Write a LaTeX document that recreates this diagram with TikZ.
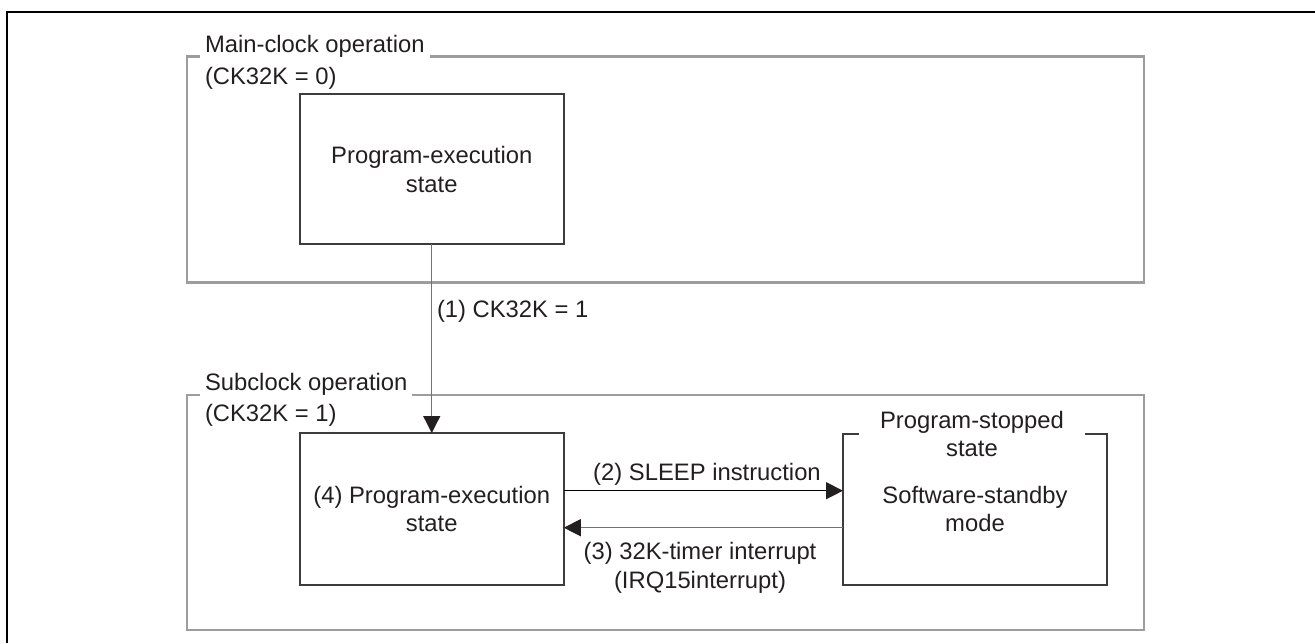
\documentclass[tikz,border=0pt]{standalone}
\usepackage{fontspec}
\setmainfont{Liberation Sans}
\usetikzlibrary{arrows.meta}
\definecolor{framegray}{RGB}{157,157,160}
\definecolor{ink}{RGB}{35,31,32}
\definecolor{boxink}{RGB}{60,60,60}
\definecolor{linegray}{RGB}{115,115,115}
\begin{document}
\begin{tikzpicture}[x=1pt,y=-1pt,
  font=\fontsize{23.8}{28.5}\selectfont,
  every node/.style={text=ink, inner sep=0pt, outer sep=0pt},
  regionbox/.style={draw=framegray, line width=2.5pt, anchor=north west},
  statebox/.style={draw=boxink, line width=2pt, minimum width=264pt, align=center},
  regiontitle/.style={fill=white, inner xsep=5pt, inner ysep=3pt, anchor=base west},
  plainlabel/.style={anchor=base west},
  flowarrow/.style={line width=1.3pt, -{Triangle[length=17pt,width=17pt,color=ink]}},
]
\useasboundingbox (0,0) rectangle (1315,643);
% outer frame (cropped)
\draw[line width=2.8pt, black] (7,643) -- (7,12) -- (1315,12);

% regions
\node[regionbox, minimum width=957pt, minimum height=226pt] (mainreg) at (187,56.5) {};
\node[regionbox, minimum width=957pt, minimum height=235pt] (subreg) at (187,395) {};
\node[regiontitle] (maintitle) at (200,52) {Main-clock operation};
\node[plainlabel] (maincond) at (205,84) {(CK32K = 0)};
\node[regiontitle] (subtitle) at (200,390) {Subclock operation};
\node[plainlabel] (subcond) at (205,421.7) {(CK32K = 1)};

% states
\node[statebox, minimum height=150pt] (pe1) at (431.75,169.25) {Program-execution\\state};
\node[statebox, minimum height=152pt] (pe4) at (431.75,509) {(4) Program-execution\\state};
\node[statebox, minimum height=151pt] (ss) at (975,509) {Software-standby\\mode};
\node[fill=white, inner xsep=21pt, align=center] (sstitle) at (972,433.8) {Program-stopped\\state};

% transitions
\draw[flowarrow, draw=linegray] (pe1.south) -- (pe4.north);
\node[plainlabel] (lab1) at (437,317) {(1) CK32K = 1};
\draw[flowarrow, draw=black] ([yshift=18.3pt]pe4.east) -- ([yshift=18.3pt]ss.west);
\node[anchor=base] (lab2) at (707,480) {(2) SLEEP instruction};
\draw[flowarrow, draw=linegray] ([yshift=-18.7pt]ss.west) -- ([yshift=-18.7pt]pe4.east);
\node[anchor=north, align=center] (lab3) at (700,542.6) {(3) 32K-timer interrupt\\(IRQ15interrupt)};
\end{tikzpicture}
\end{document}
